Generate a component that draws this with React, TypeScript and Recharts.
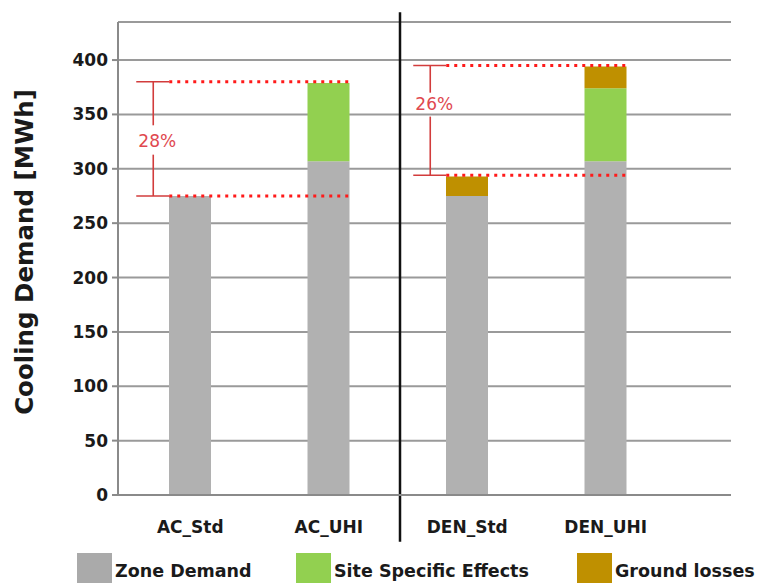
import React from 'react';
import { BarChart, Bar, XAxis, YAxis, CartesianGrid, ReferenceLine, ReferenceDot } from 'recharts';

const categories = ['AC_Std', 'AC_UHI', 'DEN_Std', 'DEN_UHI'];
const zoneDemand = [275, 307, 275, 307];
const siteEffects = [0, 72, 0, 67];
const groundLosses = [0, 0, 18, 20];
const yTicks = [0, 50, 100, 150, 200, 250, 300, 350, 400];

// comparison annotations: [base level, top level], label, label level, gap in the bracket line
const comparisons = [
  { from: 'AC_Std', to: 'AC_UHI', levels: [275, 380], label: '28%', labelLevel: 326, gap: [313, 340] },
  { from: 'DEN_Std', to: 'DEN_UHI', levels: [294, 395], label: '26%', labelLevel: 360, gap: [348, 370] },
];
// vertical separator between the two groups, spanning past the plot
const separator = { between: ['AC_UHI', 'DEN_Std'], levels: [-43, 444] };

const legendItems = [
  { label: 'Zone Demand', color: '#aaaaaa', left: 77 },
  { label: 'Site Specific Effects', color: '#92d050', left: 296 },
  { label: 'Ground losses', color: '#bf9000', left: 577 },
];

const data = categories.map((name, i) => ({
  name,
  zone: zoneDemand[i],
  site: siteEffects[i],
  ground: groundLosses[i],
}));

const FONT = '"DejaVu Sans", Verdana, sans-serif';
const BAR = 42;
const HALF = BAR / 2;
const DOT = { stroke: '#ff1a1a', strokeWidth: 3, strokeDasharray: '3 5' };
const BR = { stroke: '#d23c3c', strokeWidth: 1.6 };

// line from first point shifted by dx1 to second point shifted by dx2
const shifted = (dx1: number, dx2: number, style: any) => (p: any) => (
  <line x1={p.x1 + dx1} y1={p.y1} x2={p.x2 + dx2} y2={p.y2} {...style} fill="none" />
);

function comparison(c: any, key: string) {
  const out: any[] = [];
  c.levels.forEach((lv: number, i: number) => {
    out.push(
      <ReferenceLine key={key + 'd' + i} ifOverflow="visible" segment={[{ x: c.from, y: lv }, { x: c.to, y: lv }]}
        shape={shifted(-HALF, HALF, DOT)} />,
    );
    out.push(
      <ReferenceLine key={key + 't' + i} ifOverflow="visible" segment={[{ x: c.from, y: lv }, { x: c.from, y: lv }]}
        shape={shifted(-HALF - 33, -HALF, BR)} />,
    );
  });
  out.push(
    <ReferenceLine key={key + 'v0'} ifOverflow="visible" segment={[{ x: c.from, y: c.levels[0] }, { x: c.from, y: c.gap[0] }]}
      shape={shifted(-HALF - 16, -HALF - 16, BR)} />,
  );
  out.push(
    <ReferenceLine key={key + 'v1'} ifOverflow="visible" segment={[{ x: c.from, y: c.gap[1] }, { x: c.from, y: c.levels[1] }]}
      shape={shifted(-HALF - 16, -HALF - 16, BR)} />,
  );
  out.push(
    <ReferenceDot key={key + 'l'} ifOverflow="visible" x={c.from} y={c.labelLevel} r={0} fill="none" stroke="none"
      label={{
        value: c.label,
        content: (lp: any) => {
          const vb = lp.viewBox || {};
          const cx = (vb.x ?? 0) + (vb.width ?? 0) / 2;
          const cy = (vb.y ?? 0) + (vb.height ?? 0) / 2;
          return (
            <text x={cx - HALF - 12} y={cy} textAnchor="middle" dominantBaseline="central"
              fill="#e0484f" fontSize={17} fontFamily={FONT}>{c.label}</text>
          );
        },
      }} />,
  );
  return out;
}

export default function App() {
  return (
    <div style={{ position: 'absolute', left: 0, top: 0, width: 761, height: 583, background: '#fff', overflow: 'hidden' }}>
      <BarChart
        width={761}
        height={583}
        data={data}
        margin={{ top: 22, right: 30, bottom: 58, left: 58 }}
        barSize={BAR}
      >
        <CartesianGrid horizontal vertical={false} stroke="#9a9a9a" strokeWidth={2} />
        <XAxis
          dataKey="name"
          height={30}
          padding={{ left: 3, right: 56 }}
          tickLine={false}
          axisLine={{ stroke: '#8a8a8a', strokeWidth: 2 }}
          tickMargin={20}
          tick={{ fill: '#1a1a1a', fontSize: 17, fontWeight: 'bold', fontFamily: FONT }}
        />
        <YAxis
          width={60}
          domain={[0, 435]}
          ticks={yTicks}
          allowDataOverflow
          interval={0}
          axisLine={{ stroke: '#8a8a8a', strokeWidth: 2 }}
          tickLine={{ stroke: '#8a8a8a', strokeWidth: 2 }}
          tickSize={6}
          tickMargin={4}
          tick={{ fill: '#1a1a1a', fontSize: 17, fontWeight: 'bold', fontFamily: FONT }}
          label={{
            value: 'Cooling Demand [MWh]',
            content: () => (
              <text x={33} y={252} transform="rotate(-90 33 252)" textAnchor="middle"
                fill="#1a1a1a" fontSize={24.5} fontWeight="bold" fontFamily={FONT}>
                Cooling Demand [MWh]
              </text>
            ),
          }}
        />
        <Bar dataKey="zone" stackId="a" fill="#b1b1b1" isAnimationActive={false} />
        <Bar dataKey="site" stackId="a" fill="#92d050" isAnimationActive={false} />
        <Bar dataKey="ground" stackId="a" fill="#bf9000" isAnimationActive={false} />
        {comparison(comparisons[0], 'ac')}
        {comparison(comparisons[1], 'den')}
        <ReferenceLine ifOverflow="visible"
          segment={[{ x: separator.between[0], y: separator.levels[0] }, { x: separator.between[1], y: separator.levels[1] }]}
          shape={(p: any) => {
            const mx = (p.x1 + p.x2) / 2 + 2;
            return <line x1={mx} y1={p.y1} x2={mx} y2={p.y2} stroke="#111" strokeWidth={2.5} />;
          }} />
      </BarChart>
      {legendItems.map((it) => (
        <div key={it.label} style={{ position: 'absolute', left: it.left, top: 553, display: 'flex', alignItems: 'flex-start' }}>
          <div style={{ width: 35, height: 36, background: it.color }} />
          <div style={{ marginLeft: 3, marginTop: 8, fontFamily: FONT, fontWeight: 'bold', fontSize: 17.5, color: '#1a1a1a', whiteSpace: 'nowrap' }}>
            {it.label}
          </div>
        </div>
      ))}
    </div>
  );
}
